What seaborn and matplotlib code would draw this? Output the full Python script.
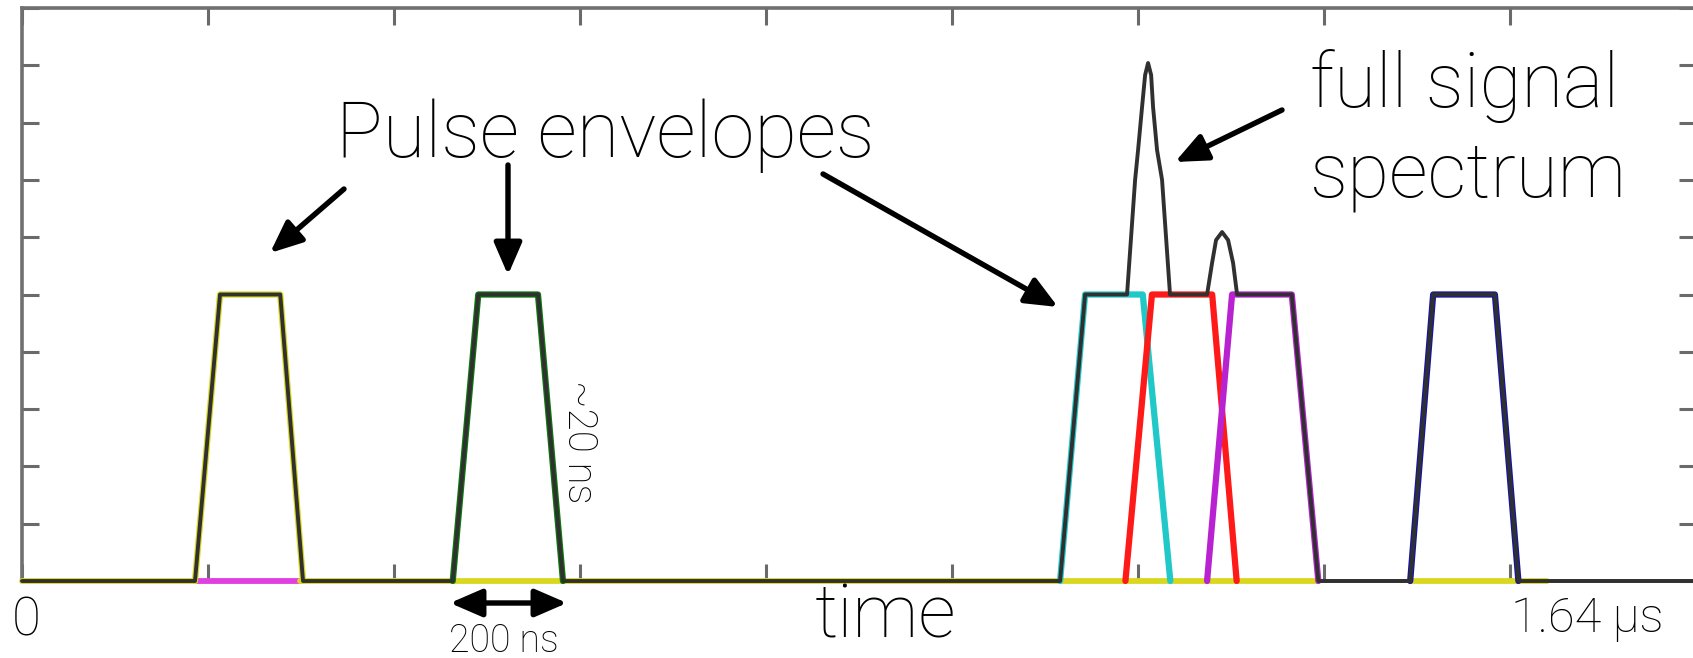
import numpy as np
import pandas as pd
import matplotlib
matplotlib.use('Agg')
import matplotlib.pyplot as plt
import seaborn as sns

# pulse envelopes (time in ns, amplitude normalised)
pulse_colors = ['#d8d820', '#0a7a0a', '#20c8c8', '#ff1a1a', '#b822d0', '#1414a8']
pulse_start = [169.5, 422, 1017, 1081, 1161, 1360]
pulse_top_start = [194, 447, 1041.5, 1107, 1185.5, 1382.5]
pulse_top_end = [253, 505.5, 1098, 1166, 1244, 1443]
pulse_end = [275.3, 530, 1125, 1190, 1270, 1466]
plateau = 0.5

# full signal trace (gray)
signal_t = [0, 169.5, 194, 253, 275.3, 422, 447, 505.5, 530,
            1017, 1041.5, 1082.6, 1090.5, 1093.4, 1097.3, 1100.3, 1103.2,
            1106.2, 1108.1, 1112, 1116.9, 1124.7,
            1161, 1165.9, 1169.8, 1175.7, 1181.6, 1186.5, 1190.4,
            1244, 1270, 1360, 1382.5, 1443, 1466, 1640]
signal_amp = [0, 0, 0.5, 0.5, 0, 0, 0.5, 0.5, 0,
              0, 0.5, 0.5, 0.70, 0.752, 0.827, 0.883, 0.904,
              0.883, 0.827, 0.752, 0.70, 0.5,
              0.5, 0.555, 0.595, 0.609, 0.595, 0.555, 0.5,
              0.5, 0, 0, 0.5, 0.5, 0, 0]

# coloured parts of the baseline
base_start = [0, 172, 272, 1360]
base_end = [172, 272, 1270, 1494]
base_colors = ['#d8d820', '#e040e0', '#d8d820', '#d8d820']

t_max = 1640

sns.set_style('ticks')
plt.rcParams['font.family'] = ['Roboto', 'DejaVu Sans']

W, H = 1693, 658
fig = plt.figure(figsize=(W / 100, H / 100), dpi=100)
ax = fig.add_axes([22 / W, 77 / H, 1674 / W, 573 / H])

for s, e, c in zip(base_start, base_end, base_colors):
    seg = pd.DataFrame({'t': [s, e], 'a': [0, 0]})
    sns.lineplot(data=seg, x='t', y='a', ax=ax, color=c, lw=4.2,
                 estimator=None, sort=False, clip_on=False, zorder=3)

for i in range(len(pulse_colors)):
    df = pd.DataFrame({
        't': [pulse_start[i], pulse_top_start[i], pulse_top_end[i], pulse_end[i]],
        'a': [0, plateau, plateau, 0]})
    sns.lineplot(data=df, x='t', y='a', ax=ax, color=pulse_colors[i], lw=4.5,
                 estimator=None, sort=False, clip_on=False, zorder=4,
                 solid_joinstyle='round')

sig = pd.DataFrame({'t': signal_t, 'a': signal_amp})
sns.lineplot(data=sig, x='t', y='a', ax=ax, color='#303030', lw=2.8,
             estimator=None, sort=False, clip_on=False, zorder=5,
             solid_joinstyle='round')

ax.set_xlim(0, t_max)
ax.set_ylim(0, 1)
ax.set_xticks(np.linspace(0, t_max, 10))
ax.set_yticks(np.arange(0, 1.01, 0.1))
ax.set_xticklabels([])
ax.set_yticklabels([])
ax.set_xlabel('')
ax.set_ylabel('')
ax.tick_params(direction='in', length=12, width=2.2, color='#6a6a6a',
               top=True, right=True, bottom=True, left=True)
for sp in ax.spines.values():
    sp.set_visible(True)
    sp.set_color('#707070')
    sp.set_linewidth(2.6)


def fx(px):
    return px / W


def fy(py):
    return 1 - py / H


txt = dict(color='black', fontweight='light', transform=fig.transFigure)
fig.text(fx(336), fy(157), 'Pulse envelopes', fontsize=56, va='baseline', **txt)
fig.text(fx(1310), fy(107), 'full signal', fontsize=55, va='baseline', **txt)
fig.text(fx(1310), fy(197), 'spectrum', fontsize=55, va='baseline', **txt)
fig.text(fx(815), fy(637), 'time', fontsize=53, va='baseline', **txt)
fig.text(fx(12), fy(635), '0', fontsize=38, va='baseline', **txt)
fig.text(fx(1511), fy(632), '1.64 µs', fontsize=35, va='baseline', **txt)
fig.text(fx(449), fy(652), '200 ns', fontsize=27, va='baseline', **txt)
fig.text(fx(579), fy(442), '~20 ns', fontsize=29, rotation=270,
         ha='center', va='center', **txt)

arrows = [((344, 189), (270, 253)),
          ((508, 165), (508, 275)),
          ((823, 174), (1058, 307)),
          ((1282, 110), (1175, 162))]
for (x0, y0), (x1, y1) in arrows:
    ax.annotate('', xy=(x1, H - y1), xytext=(x0, H - y0),
                xycoords='figure pixels', textcoords='figure pixels',
                arrowprops=dict(arrowstyle='-|>,head_length=0.97,head_width=0.42',
                                mutation_scale=20, lw=3.9, color='black',
                                shrinkA=0, shrinkB=0))
ax.annotate('', xy=(567, H - 603), xytext=(450, H - 603),
            xycoords='figure pixels', textcoords='figure pixels',
            arrowprops=dict(arrowstyle='<|-|>,head_length=0.97,head_width=0.42',
                            mutation_scale=20, lw=3.9, color='black',
                            shrinkA=0, shrinkB=0))

fig.savefig('out.png', dpi=100)
